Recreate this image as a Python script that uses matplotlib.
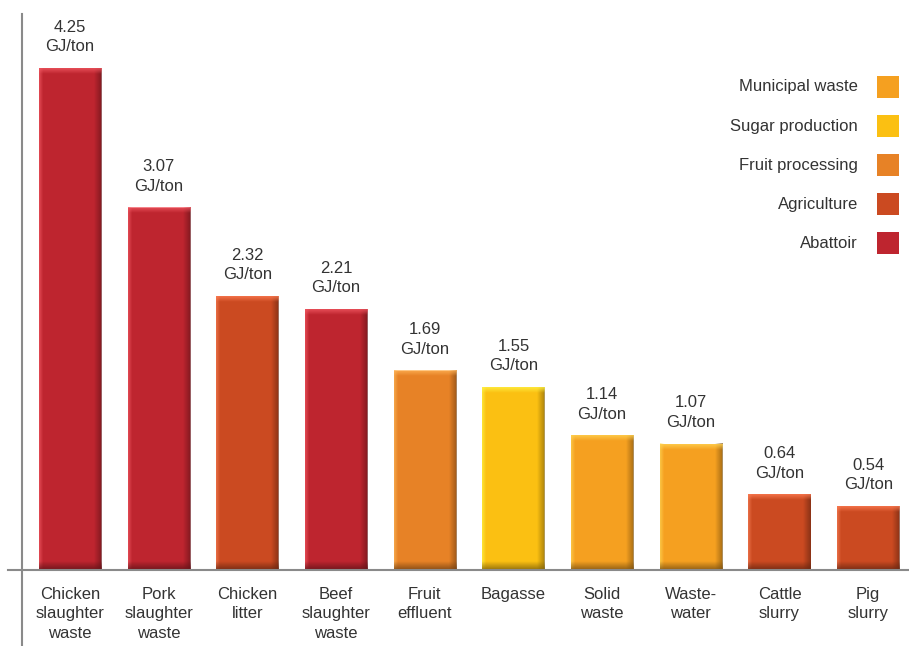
import numpy as np
import matplotlib.pyplot as plt
from matplotlib.lines import Line2D
from matplotlib.patches import Rectangle
import matplotlib.colors as mcolors

plt.rcParams["font.family"] = ["Liberation Sans", "DejaVu Sans"]

# data
aCategory = ["Chicken\nslaughter\nwaste", "Pork\nslaughter\nwaste", "Chicken\nlitter",
             "Beef\nslaughter\nwaste", "Fruit\neffluent", "Bagasse", "Solid\nwaste",
             "Waste-\nwater", "Cattle\nslurry", "Pig\nslurry"]
aValue = [4.25, 3.07, 2.32, 2.21, 1.69, 1.55, 1.14, 1.07, 0.64, 0.54]
aSector = ["Abattoir", "Abattoir", "Agriculture", "Abattoir", "Fruit processing",
           "Sugar production", "Municipal waste", "Municipal waste", "Agriculture", "Agriculture"]
aLegend = ["Municipal waste", "Sugar production", "Fruit processing", "Agriculture", "Abattoir"]
dColor = {"Abattoir": "#BE252F", "Agriculture": "#CB4A21", "Fruit processing": "#E78226",
          "Sugar production": "#FBC012", "Municipal waste": "#F5A020"}

sText = "#333333"
dFont = 12

fig = plt.figure(figsize=(9.09, 6.46), dpi=100)
ax = fig.add_axes([22 / 909, 76 / 646, 887 / 909, 556 / 646])
x = np.arange(len(aValue))
dWidth = 0.70
ax.set_xlim(-0.54, 9.46)
ax.set_ylim(0, 4.71)
ax.axis("off")


def bevel(ax, x0, w, h, sColor):
    # base bar plus shaded bevel overlay
    ax.bar(x0, h, width=w, color=sColor, linewidth=0, zorder=2)
    rgb = np.array(mcolors.to_rgb(sColor))
    nx = 60
    xx = np.linspace(0, 1, nx)
    # darker on the right, lighter on the left
    dark_r = np.clip((xx - 0.88) / 0.12, 0, 1) * 0.45
    light_l = np.clip((0.06 - xx) / 0.06, 0, 1) * 0.35
    img = np.zeros((2, nx, 4))
    img[..., :3] = np.where(dark_r[None, :, None] > 0, rgb * 0.55, np.minimum(rgb + 0.25, 1))
    img[..., 3] = np.maximum(dark_r, light_l)[None, :] * 1.5
    ax.imshow(img, extent=(x0 - w / 2, x0 + w / 2, 0, h), aspect="auto", zorder=3,
              interpolation="bilinear")
    # top highlight and bottom shadow
    top = np.zeros((20, 2, 4))
    top[..., :3] = np.minimum(rgb + 0.2, 1)
    top[..., 3] = np.linspace(0.8, 0, 20)[:, None]
    ax.imshow(top, extent=(x0 - w / 2, x0 + w / 2, h - 0.05, h), aspect="auto", zorder=4,
              interpolation="bilinear")
    bot = np.zeros((20, 2, 4))
    bot[..., :3] = rgb * 0.5
    bot[..., 3] = np.linspace(0, 0.8, 20)[:, None]
    ax.imshow(bot, extent=(x0 - w / 2, x0 + w / 2, 0, 0.07), aspect="auto", zorder=4,
              interpolation="bilinear")


for i in range(len(aValue)):
    bevel(ax, x[i], dWidth, aValue[i], dColor[aSector[i]])
    ax.annotate("%.2f\nGJ/ton" % aValue[i], xy=(x[i], aValue[i]), xytext=(0, 10),
                textcoords="offset points", ha="center", va="bottom", fontsize=dFont,
                color=sText, linespacing=1.38)
    ax.annotate(aCategory[i], xy=(x[i], 0), xytext=(0, -12), textcoords="offset points",
                ha="center", va="top", fontsize=dFont, color=sText, linespacing=1.38)

# axis lines drawn in figure pixels
fig.add_artist(Line2D([8 / 909, 1.0], [76 / 646, 76 / 646], color="#8a8a8a", lw=1.5))
fig.add_artist(Line2D([22 / 909, 22 / 909], [0, 632 / 646], color="#8a8a8a", lw=1.5))

# legend
for k, sName in enumerate(aLegend):
    y = 1 - (87 + 39 * k) / 646
    fig.text(858 / 909, y, sName, ha="right", va="center", fontsize=dFont, color=sText)
    fig.add_artist(Rectangle((877 / 909, y - 11 / 646), 22 / 909, 22 / 646,
                             transform=fig.transFigure, color=dColor[sName], lw=0))

plt.savefig("out.png", dpi=100)
